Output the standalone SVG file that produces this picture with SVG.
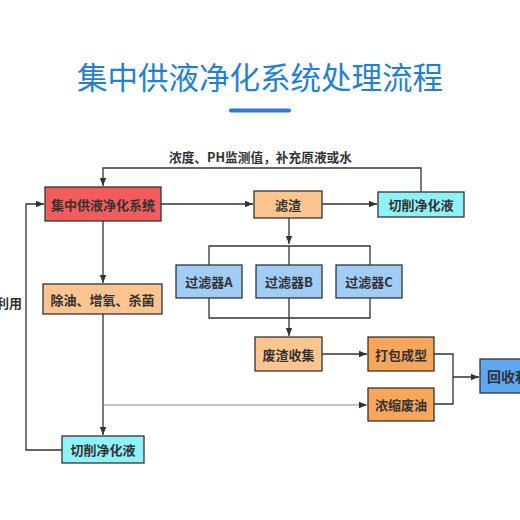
<svg xmlns="http://www.w3.org/2000/svg" width="520" height="520" viewBox="0 0 520 520">
<style>
.t{font-family:"Noto Sans CJK SC","Liberation Sans",sans-serif;font-size:13px;font-weight:bold;fill:#333;text-anchor:middle;dominant-baseline:central}
.b{stroke:#333;stroke-width:1.3}
.ln{fill:none;stroke:#333;stroke-width:1.3}
.lg{fill:none;stroke:#8a8a8a;stroke-width:1}
</style>
<defs>
<marker id="ar" viewBox="0 0 10 10" refX="10" refY="5" markerWidth="8" markerHeight="8" markerUnits="userSpaceOnUse" orient="auto"><path d="M0,1 L10,5 L0,9 z" fill="#333"/></marker>
</defs>
<rect width="520" height="520" fill="#fff"/>
<g id="title">
<text x="260" y="76" font-family="Noto Sans CJK SC,sans-serif" font-size="30.5" fill="#1f80d8" text-anchor="middle" dominant-baseline="central">集中供液净化系统处理流程</text>
<rect x="229" y="108.5" width="62" height="4" rx="2" fill="#2a7ad6"/>
</g>
<g id="connectors">
<path class="ln" d="M421,192 V168 H103 V186" marker-end="url(#ar)"/>
<path class="ln" d="M62,450 H26 V204 H44" marker-end="url(#ar)"/>
<path class="ln" d="M161,204 H253" marker-end="url(#ar)"/>
<path class="ln" d="M322,204 H377" marker-end="url(#ar)"/>
<path class="ln" d="M289,218 V244" marker-end="url(#ar)"/>
<path class="ln" d="M209,265 V246 H370 V265 M289,246 V265"/>
<path class="ln" d="M209,298 V318 H370 V298 M289,298 V318"/>
<path class="ln" d="M289,318 V336" marker-end="url(#ar)"/>
<path class="ln" d="M103,221 V283" marker-end="url(#ar)"/>
<path class="ln" d="M103,314 V435" marker-end="url(#ar)"/>
<path class="lg" d="M103,405 H367" marker-end="url(#ar)"/>
<path class="ln" d="M322,354 H367" marker-end="url(#ar)"/>
<path class="ln" d="M434,354 H453 V404 H434 M453,377 H479" marker-end="url(#ar)"/>
<text x="260.5" y="156" font-family="Noto Sans CJK SC,sans-serif" font-size="12.7" font-weight="bold" fill="#333" text-anchor="middle" dominant-baseline="central">浓度、PH监测值，补充原液或水</text>
<text x="22" y="302" font-family="Noto Sans CJK SC,sans-serif" font-size="13" font-weight="bold" fill="#333" text-anchor="end" dominant-baseline="central">利用</text>
</g>
<g id="n1"><rect class="b" x="45" y="187" width="116" height="34" fill="#f25c5c"/><text class="t" x="103" y="204">集中供液净化系统</text></g>
<g id="n2"><rect class="b" x="254" y="191" width="68" height="27" fill="#fcc48e"/><text class="t" x="288" y="204.5">滤渣</text></g>
<g id="n3"><rect class="b" x="378" y="192" width="86" height="25" fill="#8ef2f8"/><text class="t" x="421" y="204.5">切削净化液</text></g>
<g id="n4"><rect class="b" x="176" y="265" width="66" height="33" fill="#a0ccf6"/><text class="t" x="209" y="281.5">过滤器A</text></g>
<g id="n5"><rect class="b" x="256" y="265" width="66" height="33" fill="#a0ccf6"/><text class="t" x="289" y="281.5">过滤器B</text></g>
<g id="n6"><rect class="b" x="336" y="265" width="66" height="33" fill="#a0ccf6"/><text class="t" x="369" y="281.5">过滤器C</text></g>
<g id="n7"><rect class="b" x="43" y="284" width="119" height="30" fill="#fcc48e"/><text class="t" x="102.5" y="299">除油、增氧、杀菌</text></g>
<g id="n8"><rect class="b" x="255" y="337" width="67" height="34" fill="#fcc48e"/><text class="t" x="288.5" y="354">废渣收集</text></g>
<g id="n9"><rect class="b" x="368" y="337" width="66" height="34" fill="#f8a65a"/><text class="t" x="401" y="354">打包成型</text></g>
<g id="n10"><rect class="b" x="368" y="388" width="66" height="33" fill="#f8a65a"/><text class="t" x="401" y="404.5">浓缩废油</text></g>
<g id="n11"><rect class="b" x="480" y="359" width="60" height="34" fill="#5ea8f2"/><text class="t" x="487" y="376" style="text-anchor:start;font-size:14px">回收利用</text></g>
<g id="n12"><rect class="b" x="62" y="436" width="82" height="27" fill="#8ef2f8"/><text class="t" x="103" y="449.5">切削净化液</text></g>
</svg>
